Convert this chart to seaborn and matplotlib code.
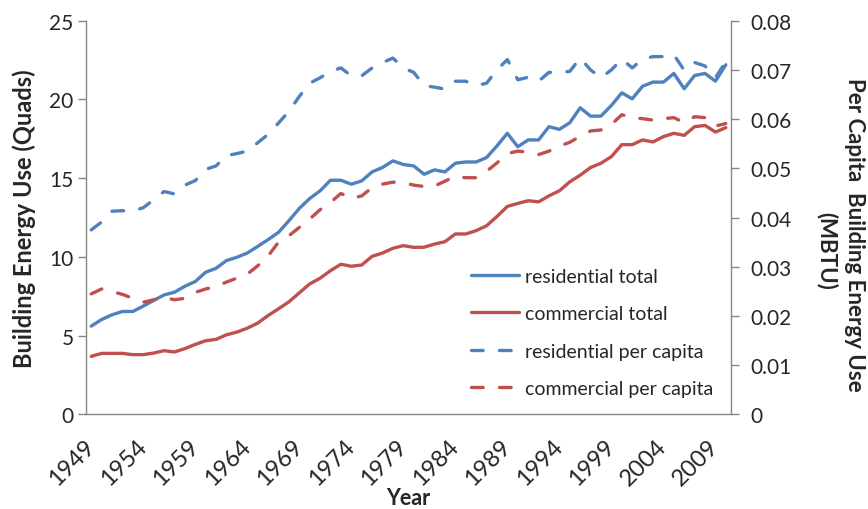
import numpy as np
import pandas as pd
import matplotlib
matplotlib.use("Agg")
import matplotlib.pyplot as plt
import matplotlib.transforms as mtransforms
import seaborn as sns

# данные
years = list(range(1949, 2011))

residential_total = [
    5.61, 6.03, 6.33, 6.54, 6.54, 6.88, 7.24, 7.59, 7.76, 8.14,
    8.44, 9.03, 9.28, 9.77, 9.98, 10.25, 10.67, 11.10, 11.56, 12.30,
    13.08, 13.71, 14.20, 14.87, 14.87, 14.62, 14.83, 15.40, 15.68, 16.10,
    15.87, 15.78, 15.25, 15.53, 15.40, 15.95, 16.03, 16.03, 16.31, 17.05,
    17.85, 17.00, 17.43, 17.43, 18.27, 18.10, 18.52, 19.47, 18.94, 18.94,
    19.62, 20.42, 20.04, 20.84, 21.10, 21.10, 21.65, 20.68, 21.52, 21.65,
    21.16, 22.20,
]

commercial_total = [
    3.69, 3.88, 3.88, 3.88, 3.80, 3.80, 3.90, 4.05, 3.97, 4.18,
    4.45, 4.68, 4.77, 5.06, 5.23, 5.48, 5.80, 6.28, 6.71, 7.15,
    7.72, 8.29, 8.65, 9.13, 9.54, 9.41, 9.49, 10.04, 10.25, 10.55,
    10.72, 10.61, 10.62, 10.82, 10.97, 11.46, 11.46, 11.67, 11.98, 12.57,
    13.21, 13.40, 13.57, 13.50, 13.88, 14.20, 14.77, 15.19, 15.68, 15.95,
    16.37, 17.13, 17.13, 17.43, 17.30, 17.64, 17.85, 17.72, 18.27, 18.35,
    17.93, 18.21,
]

residential_per_capita = [
    0.0375, 0.0391, 0.0413, 0.0414, 0.0414, 0.0420, 0.0436, 0.0453, 0.0448, 0.0466,
    0.0475, 0.0498, 0.0505, 0.0526, 0.0530, 0.0535, 0.0552, 0.0569, 0.0592, 0.0616,
    0.0646, 0.0673, 0.0684, 0.0697, 0.0704, 0.0688, 0.0688, 0.0704, 0.0715, 0.0724,
    0.0704, 0.0695, 0.0668, 0.0665, 0.0661, 0.0677, 0.0677, 0.0668, 0.0673, 0.0700,
    0.0721, 0.0680, 0.0685, 0.0677, 0.0695, 0.0695, 0.0697, 0.0724, 0.0700, 0.0684,
    0.0700, 0.0722, 0.0704, 0.0722, 0.0727, 0.0727, 0.0731, 0.0699, 0.0715, 0.0708,
    0.0684, 0.0717,
]

commercial_per_capita = [
    0.0245, 0.0255, 0.0250, 0.0244, 0.0236, 0.0228, 0.0233, 0.0238, 0.0233, 0.0236,
    0.0248, 0.0255, 0.0260, 0.0269, 0.0277, 0.0285, 0.0302, 0.0322, 0.0350, 0.0363,
    0.0380, 0.0397, 0.0416, 0.0431, 0.0449, 0.0439, 0.0444, 0.0461, 0.0468, 0.0472,
    0.0471, 0.0466, 0.0463, 0.0464, 0.0474, 0.0484, 0.0481, 0.0481, 0.0494, 0.0511,
    0.0530, 0.0535, 0.0533, 0.0528, 0.0535, 0.0545, 0.0553, 0.0565, 0.0576, 0.0578,
    0.0589, 0.0609, 0.0603, 0.0601, 0.0598, 0.0601, 0.0603, 0.0593, 0.0605, 0.0603,
    0.0586, 0.0591,
]

year_ticks = list(range(1949, 2011, 5))
left_ticks = [0, 5, 10, 15, 20, 25]
right_ticks = [0, 0.01, 0.02, 0.03, 0.04, 0.05, 0.06, 0.07, 0.08]
right_tick_labels = ["0", "0.01", "0.02", "0.03", "0.04", "0.05", "0.06", "0.07", "0.08"]

BLUE = "#4F81BD"
RED = "#C0504D"
AXIS_GREY = "#868686"

sns.set_style("white")
plt.rcParams['font.family'] = ['Lato', 'DejaVu Sans']

df = pd.DataFrame({
    'year': years,
    'residential_total': residential_total,
    'commercial_total': commercial_total,
    'residential_per_capita': residential_per_capita,
    'commercial_per_capita': commercial_per_capita,
})

fig = plt.figure(figsize=(8.68, 5.10), dpi=100)
ax = fig.add_axes([0.0991, 0.1853, 0.7431, 0.7722])
ax2 = ax.twinx()

lw = 2.4
dashed = (0, (3.5, 4.9))  # в единицах толщины линии

sns.lineplot(data=df, x='year', y='residential_total', ax=ax, color=BLUE,
             linewidth=lw, label='residential total', legend=False)
sns.lineplot(data=df, x='year', y='commercial_total', ax=ax, color=RED,
             linewidth=lw, label='commercial total', legend=False)
sns.lineplot(data=df, x='year', y='residential_per_capita', ax=ax2, color=BLUE,
             linewidth=lw, linestyle=dashed, dash_capstyle='round',
             label='residential per capita', legend=False)
sns.lineplot(data=df, x='year', y='commercial_per_capita', ax=ax2, color=RED,
             linewidth=lw, linestyle=dashed, dash_capstyle='round',
             label='commercial per capita', legend=False)

for line in ax.get_lines() + ax2.get_lines():
    line.set_solid_joinstyle('round')

ax.set_xlim(1948.5, 2010.5)
ax.set_ylim(0, 25)
ax2.set_ylim(0, 0.08)

ax.set_xticks(year_ticks)
ax.set_xticklabels([str(y) for y in year_ticks], rotation=45, ha='right',
                   va='center', rotation_mode='anchor', fontsize=17)
# небольшой сдвиг подписей лет влево
shift = mtransforms.ScaledTranslation(-4 / 100, 0, fig.dpi_scale_trans)
for lbl in ax.get_xticklabels():
    lbl.set_transform(lbl.get_transform() + shift)
ax.set_yticks(left_ticks)
ax.set_yticklabels([str(v) for v in left_ticks], fontsize=15)
ax2.set_yticks(right_ticks)
ax2.set_yticklabels(right_tick_labels, fontsize=15)

ax.tick_params(axis='x', length=0, pad=20)
ax.tick_params(axis='y', length=6, width=1, color=AXIS_GREY, left=True, pad=3)
ax2.tick_params(axis='y', length=6, width=1, color=AXIS_GREY, right=True, pad=8)

for a in (ax, ax2):
    a.spines['top'].set_visible(False)
    for s in ('left', 'bottom', 'right'):
        a.spines[s].set_color(AXIS_GREY)
        a.spines[s].set_linewidth(1)
ax.spines['right'].set_visible(False)
ax2.spines['left'].set_visible(False)
ax2.spines['bottom'].set_visible(False)

ax.set_xlabel('Year', fontsize=15.5, fontweight='bold', va='baseline')
ax.xaxis.set_label_coords(0.5, (415.5 - 505) / 393.8)
ax.set_ylabel('Building Energy Use (Quads)', fontsize=17, fontweight='bold')
ax.yaxis.set_label_coords((36 - 86) / 645, 0.5)
ax2.set_ylabel('')

# заголовок правой оси двумя строками
fig.text(855 / 868, 1 - 235 / 510, 'Per Capita  Building Energy Use', rotation=270,
         ha='center', va='center', fontsize=16, fontweight='bold')
fig.text(827 / 868, 1 - 251 / 510, '(MBTU)', rotation=270,
         ha='center', va='center', fontsize=16, fontweight='bold')

handles = ax.get_lines() + ax2.get_lines()
labels = [h.get_label() for h in handles]
ax2.legend(handles, labels, loc='lower right', bbox_to_anchor=(1.0, 0.0),
           frameon=False, fontsize=14, handlelength=2.5, handletextpad=0.3,
           labelspacing=1.05)

fig.savefig('out.png', dpi=100)
